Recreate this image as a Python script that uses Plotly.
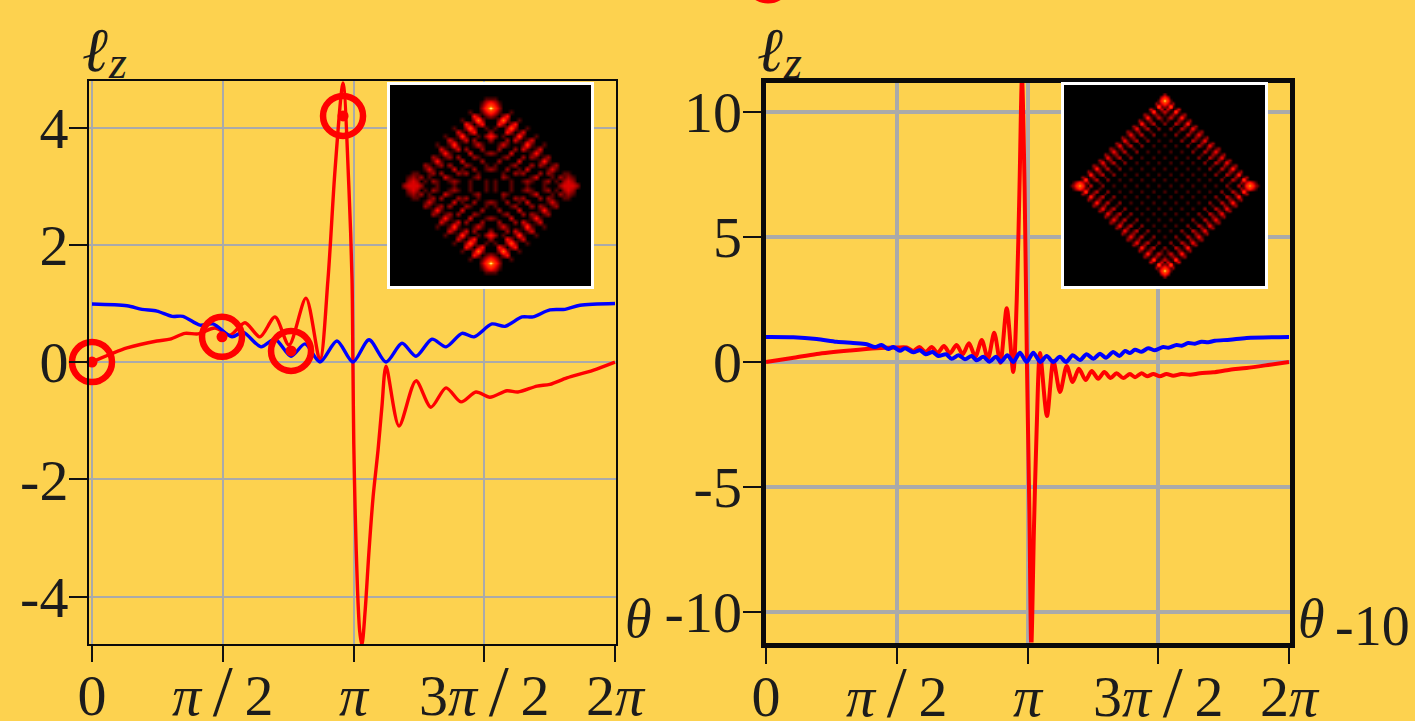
import plotly.graph_objects as go

W, H = 1415, 721
BG = "#FDD24F"
FONT = "Liberation Serif"

# Left panel curves: theta in degrees, l_z values
left_red_theta = [0, 24.1, 44.7, 53.7, 64.0, 73.0, 84.7, 95.0, 105.3, 115.6, 126.0, 135.6, 147.3, 156.9,
                  162.4, 167.3, 172.8, 176.9, 179.0, 179.6, 180.2, 181.2, 182.8, 184.3, 185.8, 188.0, 190.6, 193.5,
                  196.9, 199.6, 202.4, 211.3, 223.0,
                  233.3, 243.7, 254.0, 264.3, 273.9, 285.6, 293.2, 306.3, 315.2, 326.9, 344.8, 360]
left_red_lz = [0, 0.24, 0.36, 0.39, 0.49, 0.48, 0.58, 0.46, 0.67, 0.43, 0.77, 0.29, 1.09, 0.03,
               1.40, 3.28, 4.76, 2.94, 1.40, -0.02, -1.4, -2.6, -3.9, -4.6, -4.83, -4.25, -3.25, -2.3,
               -1.5, -0.75, -0.07, -1.09, -0.32,
               -0.77, -0.44, -0.68, -0.51, -0.60, -0.49, -0.51, -0.41, -0.38, -0.27, -0.14, 0]
left_blue_theta = [0, 24.1, 34.4, 44.7, 55.1, 62.6, 74.3, 83.3, 96.4, 103.9, 116.3, 126.0, 137.0, 146.6,
                   156.9, 168.6, 179.6, 190.7, 202.4, 213.4, 223.0, 234.0, 243.7, 254.7, 262.9, 275.3,
                   284.3, 296.0, 303.5, 315.2, 325.6, 335.9, 360]
left_blue_lz = [0.99, 0.96, 0.90, 0.87, 0.78, 0.78, 0.63, 0.65, 0.43, 0.51, 0.26, 0.39, 0.10, 0.31,
                0.0, 0.36, 0.0, 0.38, 0.0, 0.32, 0.10, 0.39, 0.26, 0.49, 0.43, 0.65,
                0.61, 0.77, 0.77, 0.89, 0.90, 0.97, 1.0]
circle_theta = [0, 89.5, 137.0, 172.8]
circle_lz = [0, 0.43, 0.19, 4.2]

# Right panel curves
right_red_theta = [0, 18, 35, 58, 76, 90, 96.8, 101.4, 105.5, 109.9, 114.0, 118.2, 122.5, 126.6, 131.2, 135.4,
                   139.7, 144.1, 148.5, 152.8, 157.1, 161.3, 165.7, 170.2, 172.6, 174.5, 176.2, 178.0, 179.6,
                   181.3, 182.6, 184.5, 186.3, 188.6, 193.4, 197.8, 202.4, 207.0, 211.1, 215.4, 220.0,
                   224.2, 228.7, 232.9, 237.2, 241.3, 245.9, 250.5, 254.0, 258.5, 262.4, 266.6, 271.1, 275.7,
                   280.3, 286.0, 291.8, 298.7, 307.9, 319.3, 330.8, 346.8, 360]
right_red_lz = [0, 0.16, 0.32, 0.46, 0.55, 0.58, 0.58, 0.44, 0.60, 0.40, 0.60, 0.37, 0.64, 0.35, 0.68, 0.31,
                0.75, 0.21, 0.88, 0.13, 1.17, -0.03, 2.15, -0.40, 2.5, 7.0, 11.4, 7.0, 0,
                -6.0, -11.4, -6.5, -2.7, 0.36, -2.16, 0.04, -1.20, -0.16, -0.80, -0.27, -0.72,
                -0.36, -0.67, -0.40, -0.64, -0.45, -0.64, -0.48, -0.61, -0.45, -0.57, -0.48, -0.57, -0.48,
                -0.55, -0.48, -0.51, -0.45, -0.41, -0.31, -0.24, -0.11, 0]
right_blue_theta = [0, 18.8, 34.9, 48.6, 60, 69.3, 75.0, 79.6, 84.2, 87.6, 92.2, 95.7, 101.4, 106, 109.9, 114.7,
                    118.6, 123.9, 127.8, 132.6, 137.0, 141.5, 145.0, 149.6, 153.7, 158.3, 161.7, 166.1,
                    170.2, 174.8, 179.4, 184.0, 188.8, 193.2, 197.7, 202.3, 206.5, 211.1, 216.1, 220.7,
                    225.3, 229.9, 234.0, 239.0, 243.2, 247.1, 250.5, 254, 258.5, 263.1, 267.7, 273.4, 276.9,
                    282.6, 286.1, 290.6, 295.2, 299.8, 304.4, 309, 319.3, 330.8, 360]
right_blue_lz = [1.0, 0.99, 0.92, 0.81, 0.76, 0.71, 0.60, 0.68, 0.52, 0.60, 0.45, 0.55, 0.39, 0.47, 0.31, 0.40,
                 0.24, 0.31, 0.13, 0.27, 0.11, 0.24, 0.07, 0.21, 0.01, 0.21, 0.0, 0.27,
                 0.0, 0.37, 0.0, 0.37, 0.0, 0.24, 0.0, 0.21, 0.0, 0.27, 0.08, 0.31,
                 0.13, 0.33, 0.17, 0.40, 0.24, 0.44, 0.36, 0.49, 0.41, 0.55, 0.47, 0.60, 0.57,
                 0.68, 0.65, 0.76, 0.73, 0.81, 0.79, 0.85, 0.89, 0.96, 1.0]

# Axis ticks
theta_ticks = [0, 90, 180, 270, 360]
SLASH = "\u2009<span style=\"font-size:72px\">/</span>\u2009"
theta_labels = ["0", "<i>π</i>" + SLASH + "2", "<i>π</i>", "3<i>π</i>" + SLASH + "2", "2<i>π</i>"]
left_y_ticks = [-4, -2, 0, 2, 4]
left_y_labels = ["-4", "-2", "0", "2", "4"]
right_y_ticks = [-10, -5, 0, 5, 10]
right_y_labels = ["-10", "-5", "0", "5", "10"]

# Inset intensity pictures: upper-left quadrants, digits 0-9.
# Rows are right-aligned (leading zeros omitted) and mirrored to make the whole picture.
inset_left_quadrant = [
    "0", "0", "0",
    "11",
    "135",
    "259",
    "100135",
    "42012",
    "10027200",
    "4202400",
    "1002620010",
    "310240002",
    "100151001024",
    "31013020002",
    "10015100013100",
    "3101302000200",
    "1410000300012",
    "210120200021000",
    "141000030000200",
    "21012020002100010",
    "13100003010020012",
    "11001202000212001000",
    "121201000310000012000",
    "232010210012100100010",
    "2333200010001000100010",
]
inset_right_quadrant = [
    "0", "0", "0",
    "2",
    "35",
    "159",
    "2135",
    "1712",
    "310130",
    "161013",
    "21012101",
    "15101310",
    "2101200010",
    "1510130002",
    "210120001000",
    "141013000200",
    "21012000100000",
    "14101300020001",
    "2101200010000000",
    "1410130002000100",
    "210120001000000000",
    "141013000200010001",
    "21012000100000000000",
    "14101300020001000100",
    "2101200010000000000000",
    "1410130002000100010001",
    "210120001000000000000000",
    "141013000200010001000100",
    "21012000100000000000000000",
    "15101300020001000100010001",
    "2101200010000000000000000000",
    "1510130002000100010001000100",
    "210120001000000000000000000000",
    "161013000200010001000100010001",
    "135312000100000000000000000000000",
    "1258510300020001000100010001000100",
]


def full_matrix(quadrant):
    n = len(quadrant)
    rows = [[int(ch) for ch in r.zfill(n)[-n:]] for r in quadrant]
    rows = [r + r[-2::-1] for r in rows]
    return rows + rows[-2::-1]


HOT = [[0, "#000000"], [0.11, "#5a0000"], [0.22, "#a00000"], [0.33, "#dc0000"], [0.44, "#ff1000"],
       [0.55, "#ff2800"], [0.67, "#ff3c00"], [0.78, "#ff6a00"], [0.89, "#ffb028"], [1, "#ffffa0"]]


def xd(a, b):
    return [a / W, b / W]


def yd(top, bottom):
    return [1 - bottom / H, 1 - top / H]


fig = go.Figure()
RED, BLUE = "#FF0000", "#0000FF"


def curve(x, y, color, w, ax):
    fig.add_trace(go.Scatter(x=x, y=y, mode="lines", xaxis="x" + ax, yaxis="y" + ax,
                             line=dict(color=color, width=w, shape="spline", smoothing=0.8),
                             showlegend=False, hoverinfo="skip"))


curve(left_red_theta, left_red_lz, RED, 3.4, "")
curve(left_blue_theta, left_blue_lz, BLUE, 3.4, "")
fig.add_trace(go.Scatter(x=circle_theta, y=circle_lz, mode="markers", cliponaxis=False,
                         marker=dict(symbol="circle-open", size=40, color=RED, line=dict(color=RED, width=6.5)),
                         showlegend=False, hoverinfo="skip"))
fig.add_trace(go.Scatter(x=circle_theta, y=circle_lz, mode="markers", cliponaxis=False,
                         marker=dict(size=11, color=RED), showlegend=False, hoverinfo="skip"))
curve(right_red_theta, right_red_lz, RED, 4, "2")
curve(right_blue_theta, right_blue_lz, BLUE, 4, "2")

fig.add_trace(go.Heatmap(z=full_matrix(inset_left_quadrant), xaxis="x3", yaxis="y3", colorscale=HOT,
                         zmin=0, zmax=9, zsmooth="best", showscale=False, hoverinfo="skip"))
fig.add_trace(go.Heatmap(z=full_matrix(inset_right_quadrant), xaxis="x4", yaxis="y4", colorscale=HOT,
                         zmin=0, zmax=9, zsmooth="best", showscale=False, hoverinfo="skip"))


def main_axes(xdom, ydom, xr, yr, yt, yl, frame, grid, anchors):
    tick = dict(size=58, family=FONT, color="#1c1c1c")
    xa = dict(domain=xdom, range=xr, tickmode="array", tickvals=theta_ticks, ticktext=theta_labels,
              tickfont=tick, ticks="outside", ticklen=16, tickwidth=2, tickcolor="#111", showgrid=True,
              gridcolor="#aaaaaa", gridwidth=grid, zeroline=False, showline=True, linecolor="#0a0a0a",
              linewidth=frame, mirror=True, anchor=anchors[1], fixedrange=True, automargin=False,
              ticklabelstandoff=-17)
    ya = dict(domain=ydom, range=yr, tickmode="array", tickvals=yt, ticktext=yl,
              tickfont=tick, ticks="outside", ticklen=18, tickwidth=2, tickcolor="#111", showgrid=True,
              gridcolor="#aaaaaa", gridwidth=grid, zeroline=False, showline=True, linecolor="#0a0a0a",
              linewidth=frame, mirror=True, anchor=anchors[0], fixedrange=True, automargin=False,
              ticklabelstandoff=-11)
    return xa, ya


x1, y1 = main_axes(xd(89, 616), yd(81, 644), [-2.06, 360.69], [-4.81, 4.795], left_y_ticks, left_y_labels,
                   2, 1.5, ("x", "y"))
x2, y2 = main_axes(xd(765.5, 1289.5), yd(82.5, 642.5), [-0.34, 360.34], [-11.22, 11.18], right_y_ticks,
                   right_y_labels, 5, 3.5, ("x2", "y2"))


def inset_axes(xdom, ydom, anchors):
    common = dict(showticklabels=False, ticks="", showgrid=False, zeroline=False, showline=True,
                  linecolor="white", linewidth=3, mirror=True, fixedrange=True, automargin=False)
    xa = dict(common, domain=xdom, anchor=anchors[1])
    ya = dict(common, domain=ydom, anchor=anchors[0])
    return xa, ya


x3, y3 = inset_axes(xd(390, 591), yd(85, 286), ("x3", "y3"))
x4, y4 = inset_axes(xd(1064, 1265), yd(85, 286), ("x4", "y4"))


def label(text, px, py, size, italic=True, family=FONT):
    return dict(text=f"<i>{text}</i>" if italic else text, x=px / W, y=1 - py / H, xref="paper", yref="paper",
                showarrow=False, xanchor="center", yanchor="middle",
                font=dict(size=size, family=family, color="#1c1c1c"))


annotations = [
    label("ℓ", 95, 50, 62), label("z", 117, 63, 46),
    label("ℓ", 770, 50, 62), label("z", 792, 63, 46),
    label("θ", 638, 619, 54), label("θ", 1311, 619, 54),
    label("-10", 1372, 626, 56, italic=False),
]

fig.update_layout(
    template="none",
    width=W, height=H, margin=dict(l=0, r=0, t=0, b=0, pad=0, autoexpand=False), autosize=False,
    paper_bgcolor=BG, plot_bgcolor=BG, showlegend=False,
    xaxis=x1, yaxis=y1, xaxis2=x2, yaxis2=y2, xaxis3=x3, yaxis3=y3, xaxis4=x4, yaxis4=y4,
    annotations=annotations,
    shapes=[dict(type="circle", xref="paper", yref="paper", x0=747 / W, x1=789 / W, y0=1 + 39 / H, y1=1 - 1 / H,
                 line=dict(color=RED, width=5), layer="above")],
)
fig.write_html("out.html", post_script="document.body.style.margin='0';document.body.style.overflow='hidden';",
               config=dict(displayModeBar=False))
